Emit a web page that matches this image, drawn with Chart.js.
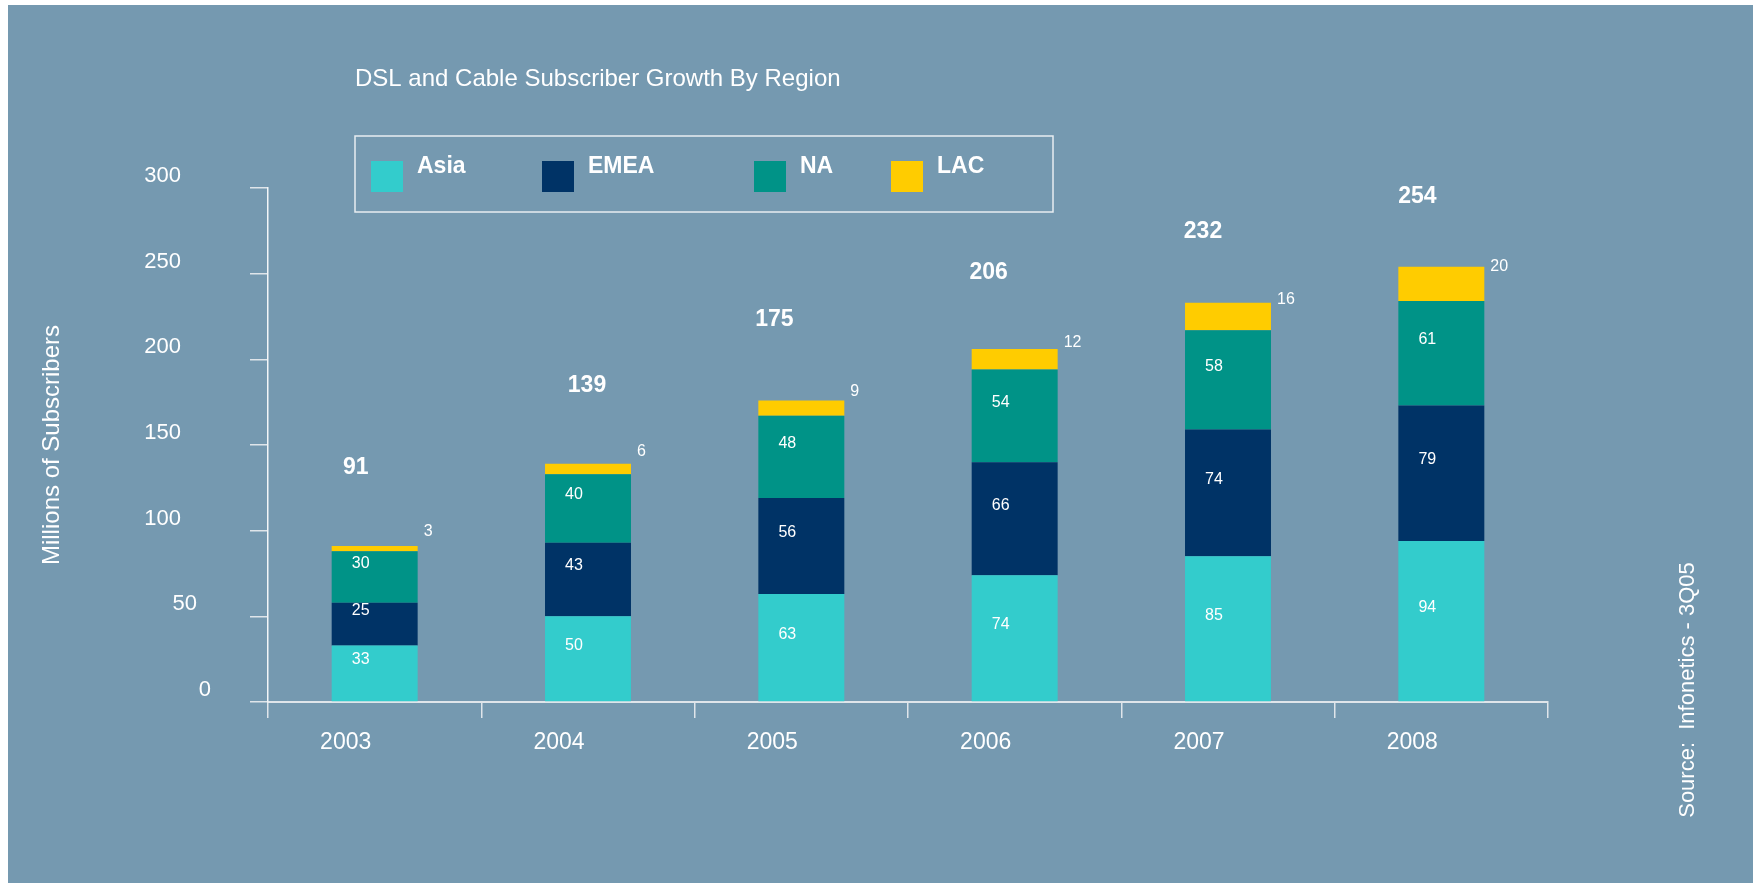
<!DOCTYPE html>
<html>
<head>
<meta charset="utf-8">
<title>DSL and Cable Subscriber Growth By Region</title>
<script src="https://cdn.jsdelivr.net/npm/chart.js@4/dist/chart.umd.min.js"></script>
<style>
  html, body { margin: 0; padding: 0; background: #ffffff; overflow: hidden; }
  #chart { display: block; }
</style>
</head>
<body>
<canvas id="chart" width="1757" height="883"></canvas>
<script>
// Subscribers (millions) per region and year
const years = ['2003', '2004', '2005', '2006', '2007', '2008'];
const asia  = [33, 50, 63, 74, 85, 94];
const emea  = [25, 43, 56, 66, 74, 79];
const na    = [30, 40, 48, 54, 58, 61];
const lac   = [3, 6, 9, 12, 16, 20];
const totals = [91, 139, 175, 206, 232, 254];
const yTicks = [0, 50, 100, 150, 200, 250, 300];

const FONT = '"Liberation Sans", Arial, Helvetica, sans-serif';
const BG = '#7599B0';
const AXIS = '#dfe5ea';

// Panel background with a thin white margin on the top, left and right
const panel = {
  id: 'panel',
  beforeDraw(chart) {
    const ctx = chart.ctx;
    ctx.save();
    ctx.fillStyle = '#ffffff';
    ctx.fillRect(0, 0, chart.width, chart.height);
    ctx.fillStyle = BG;
    ctx.fillRect(8, 5, chart.width - 12, chart.height - 5);
    ctx.restore();
  }
};

// Title, boxed legend, axis numbers, value labels and source note
const annotations = {
  id: 'annotations',
  afterDraw(chart, args, opts) {
    const ctx = chart.ctx;
    const yScale = chart.scales.y;
    ctx.save();
    ctx.fillStyle = '#ffffff';

    // title
    ctx.font = '24px ' + FONT;
    ctx.textAlign = 'left';
    ctx.textBaseline = 'alphabetic';
    ctx.fillText('DSL and Cable Subscriber Growth By Region', 355, 86);

    // legend frame
    ctx.strokeStyle = '#e8edf1';
    ctx.lineWidth = 1.5;
    ctx.strokeRect(355, 136, 698, 76);

    // legend entries
    ctx.font = 'bold 23px ' + FONT;
    chart.data.datasets.forEach((ds, i) => {
      const x = opts.legendX[i];
      ctx.fillStyle = ds.backgroundColor;
      ctx.fillRect(x, 161, 32, 31);
      ctx.fillStyle = '#ffffff';
      ctx.fillText(ds.label, x + 46, 172.5);
    });

    // value-axis numbers, set slightly above their tick marks
    ctx.font = '22px ' + FONT;
    ctx.textAlign = 'right';
    ctx.textBaseline = 'middle';
    yTicks.forEach(v => {
      const right = opts.yLabelRight[v] || opts.yLabelRight.default;
      ctx.fillText(String(v), right, yScale.getPixelForValue(v) - 12);
    });

    // segment values inside the bars
    ctx.font = '16px ' + FONT;
    ctx.textAlign = 'center';
    for (let d = 0; d < 3; d++) {
      const ds = chart.data.datasets[d];
      chart.getDatasetMeta(d).data.forEach((el, i) => {
        ctx.fillText(String(ds.data[i]), el.x - 14, (el.y + el.base) / 2 - 13.5);
      });
    }

    // LAC values beside the top segment
    ctx.textAlign = 'left';
    const lacMeta = chart.getDatasetMeta(3);
    lacMeta.data.forEach((el, i) => {
      ctx.fillText(String(lac[i]), el.x + el.width / 2 + 6, (el.y + el.base) / 2 - 17);
    });

    // yearly totals above each stack
    ctx.font = 'bold 23px ' + FONT;
    ctx.textAlign = 'center';
    lacMeta.data.forEach((el, i) => {
      const top = yScale.getPixelForValue(totals[i]);
      ctx.fillText(String(totals[i]), el.x + opts.totalDx[i], top - opts.totalRise[i]);
    });

    // source note, rotated
    ctx.font = '22px ' + FONT;
    ctx.translate(1688, 690);
    ctx.rotate(-Math.PI / 2);
    ctx.textAlign = 'center';
    ctx.textBaseline = 'middle';
    ctx.fillText('Source:  Infonetics - 3Q05', 0, 0);
    ctx.restore();
  }
};

new Chart(document.getElementById('chart'), {
  type: 'bar',
  data: {
    labels: years,
    datasets: [
      { label: 'Asia', data: asia, backgroundColor: '#33CCCC' },
      { label: 'EMEA', data: emea, backgroundColor: '#003366' },
      { label: 'NA', data: na, backgroundColor: '#009387' },
      { label: 'LAC', data: lac, backgroundColor: '#FFCC00' }
    ]
  },
  options: {
    responsive: false,
    animation: false,
    devicePixelRatio: 1,
    categoryPercentage: 1,
    barPercentage: 0.403,
    layout: { padding: { left: 0, top: 188, right: 209, bottom: 121 } },
    plugins: {
      legend: { display: false },
      tooltip: { enabled: false },
      annotations: {
        legendX: [371, 542, 754, 891],
        yLabelRight: { default: 181, 50: 197, 0: 211 },
        totalDx: [-19, -1, -27, -26, -25, -24],
        totalRise: [78, 78, 83, 76, 73, 70]
      }
    },
    scales: {
      x: {
        stacked: true,
        grid: {
          display: true,
          drawOnChartArea: false,
          offset: true,
          tickLength: 16,
          color: AXIS,
          lineWidth: 1.5
        },
        border: { display: true, color: AXIS, width: 2 },
        ticks: {
          color: '#ffffff',
          font: { family: FONT, size: 23 },
          padding: 11,
          labelOffset: -29,
          maxRotation: 0,
          autoSkip: false
        },
        afterFit(scale) { scale.height = 60; }
      },
      y: {
        stacked: true,
        min: 0,
        max: 300,
        afterBuildTicks(scale) { scale.ticks = yTicks.map(v => ({ value: v })); },
        ticks: { display: false },
        grid: {
          display: true,
          drawOnChartArea: false,
          tickLength: 18,
          color: AXIS,
          lineWidth: 1.5
        },
        border: { display: true, color: '#f2f5f7', width: 1.5 },
        title: {
          display: true,
          text: 'Millions of Subscribers',
          color: '#ffffff',
          font: { family: FONT, size: 24 },
          padding: { top: 38, bottom: 0 }
        },
        afterFit(scale) { scale.width = 268; }
      }
    }
  },
  plugins: [panel, annotations]
});
</script>
</body>
</html>
